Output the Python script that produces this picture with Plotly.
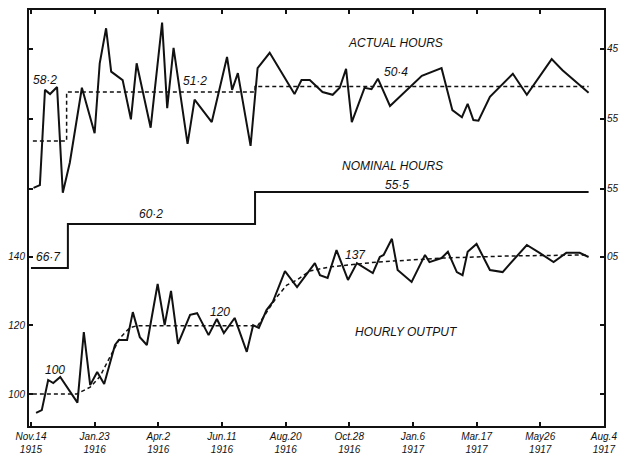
import plotly.graph_objects as go

# ---- data (x in weeks from Nov 14 1915) ----
week_ticks = [0, 10, 20, 30, 40, 50, 60, 70, 80, 90]
week_labels = ["Nov.14<br>1915", "Jan.23<br>1916", "Apr.2<br>1916", "Jun.11<br>1916",
               "Aug.20<br>1916", "Oct.28<br>1916", "Jan.6<br>1917", "Mar.17<br>1917",
               "May26<br>1917", "Aug.4<br>1917"]

actual_weeks = [0.4, 1.4, 2.2, 3.0, 4.1, 5.0, 6.1, 8.0, 10.0, 10.8, 11.8, 12.6, 14.4, 15.7,
                16.6, 18.8, 20.6, 21.4, 22.4, 24.6, 25.7, 28.4, 30.8, 31.6, 32.5, 34.5,
                35.6, 37.5, 41.4, 42.5, 43.8, 45.8, 47.4, 48.5, 49.5, 50.4, 52.4, 53.5,
                54.5, 56.4, 61.4, 64.5, 66.2, 67.7, 68.6, 69.5, 70.3, 72.1, 75.7, 77.9,
                81.8, 83.5, 87.6]
actual_hours = [64.9, 64.5, 50.9, 51.5, 50.5, 65.6, 61.3, 50.6, 57.1, 47.1, 42.1, 48.3, 49.5,
                55.1, 47.1, 56.3, 41.3, 53.5, 44.9, 58.6, 52.3, 55.5, 46.2, 50.9, 48.5, 58.9,
                47.8, 45.6, 51.5, 49.5, 49.5, 51.2, 51.6, 50.6, 47.9, 55.5, 50.6, 50.8, 49.3,
                53.2, 48.9, 47.8, 53.8, 54.8, 52.9, 55.2, 55.3, 51.9, 48.6, 51.6, 46.5, 48.1,
                51.3]

actual_avg_weeks = [0.3, 5.6, 5.6, 35.2, 35.2, 87.6]
actual_avg_hours = [58.2, 58.2, 51.2, 51.2, 50.4, 50.4]

nominal_weeks = [0, 5.8, 35.2, 87.6]
nominal_hours = [66.7, 60.2, 55.5, 55.5]

output_weeks = [0.8, 1.7, 2.7, 3.5, 4.6, 7.3, 8.3, 9.3, 10.4, 11.5, 13.2, 13.8, 15.1, 16.0,
                17.1, 18.2, 19.9, 21.0, 22.0, 23.1, 25.0, 26.1, 27.9, 29.2, 30.3, 32.0,
                33.9, 34.9, 35.8, 37.0, 38.0, 39.9, 41.8, 43.0, 43.8, 44.6, 45.4, 46.6,
                48.0, 49.8, 51.2, 52.1, 53.7, 54.8, 55.4, 56.7, 57.6, 59.8, 61.9, 62.6,
                64.5, 65.5, 66.9, 67.8, 68.6, 70.0, 72.1, 74.1, 77.9, 79.9, 82.1, 84.1,
                86.2, 87.6]
output_values = [94.5, 95.3, 104.1, 103.2, 105.0, 97.5, 118.1, 102.6, 106.4, 102.9, 114.3,
                 115.8, 115.8, 123.9, 116.6, 114.3, 132.1, 120.1, 130.1, 114.6, 123.1, 123.6,
                 117.2, 121.9, 117.8, 122.2, 112.3, 120.1, 119.3, 124.5, 126.9, 135.9, 131.2,
                 134.2, 136.0, 138.2, 134.7, 133.9, 142.0, 133.3, 138.2, 137.1, 135.3, 140.0,
                 140.6, 145.3, 136.2, 132.7, 140.6, 138.5, 139.7, 141.5, 135.6, 134.7, 141.5,
                 143.8, 136.2, 135.6, 143.5, 141.2, 138.5, 141.2, 141.2, 140.0]

trend_weeks = [0.3, 7.2, 9.3, 10.8, 12.4, 14.0, 15.5, 16.6, 35.6, 37.0, 38.6, 40.2, 41.8,
               43.8, 46.9, 50.1, 54.3, 59.5, 64.7, 75.2, 87.6]
trend_values = [100, 100, 102, 105, 110.8, 116.4, 119.3, 119.9, 119.9, 124, 128.3, 131.8,
                133.3, 135.9, 137.1, 137.7, 138.5, 139.1, 139.7, 140.3, 140.6]

# right-hand scale labels: (text, axis, value)
right_labels = [("45", "y2", 45), ("55", "y2", 55), ("55", "y3", 55), ("05", "y", 140)]

FONT = "Liberation Sans"
ink = "#111111"

fig = go.Figure()
fig.add_trace(go.Scatter(x=actual_weeks, y=actual_hours, yaxis="y2", mode="lines",
                         line=dict(color=ink, width=2)))
fig.add_trace(go.Scatter(x=actual_avg_weeks, y=actual_avg_hours, yaxis="y2", mode="lines",
                         line=dict(color=ink, width=1.5, dash="4px,3px")))
fig.add_trace(go.Scatter(x=nominal_weeks, y=nominal_hours, yaxis="y3", mode="lines",
                         line=dict(color=ink, width=2, shape="hv")))
fig.add_trace(go.Scatter(x=output_weeks, y=output_values, yaxis="y", mode="lines",
                         line=dict(color=ink, width=2)))
fig.add_trace(go.Scatter(x=trend_weeks, y=trend_values, yaxis="y", mode="lines",
                         line=dict(color=ink, width=1.5, dash="4px,3px")))

tf = dict(family=FONT, size=10, color=ink, style="italic")

notes = [("58·2", 2.2, 0.832), ("51·2", 25.7, 0.829), ("50·4", 57.3, 0.851),
         ("ACTUAL HOURS", 57.3, 0.921), ("NOMINAL HOURS", 56.8, 0.625),
         ("55·5", 57.5, 0.579), ("60·2", 18.8, 0.510), ("66·7", 2.8, 0.406),
         ("100", 3.8, 0.135), ("120", 29.7, 0.274), ("137", 51.0, 0.411),
         ("HOURLY OUTPUT", 59.0, 0.226)]
annotations = [dict(text=t, x=x, y=y, xref="x", yref="paper", xanchor="center",
                    yanchor="middle", showarrow=False,
                    font=dict(family=FONT, size=12, color=ink, style="italic"))
               for t, x, y in notes]
for t, ax, v in right_labels:
    annotations.append(dict(text=t, x=1, y=v, xref="paper", yref=ax, xanchor="left",
                            yanchor="middle", xshift=1, showarrow=False, font=tf))

common = dict(showgrid=False, zeroline=False, automargin=False)

fig.update_layout(
    template="none",
    width=620, height=459,
    margin=dict(l=29, r=16, t=10, b=33, pad=0),
    paper_bgcolor="white", plot_bgcolor="white",
    showlegend=False,
    annotations=annotations,
    xaxis=dict(range=[-0.31, 90.02], tickvals=week_ticks, ticktext=week_labels,
               ticks="inside", ticklen=4, tickwidth=1.5, tickcolor=ink,
               showline=True, linewidth=2, linecolor=ink, mirror="ticks",
               tickfont=tf, **common),
    yaxis=dict(range=[90.66, 212.1], tickvals=[100, 120, 140],
               ticks="inside", ticklen=4, tickwidth=1.5, tickcolor=ink,
               showline=True, linewidth=2, linecolor=ink, mirror="ticks",
               tickfont=tf, **common),
    yaxis2=dict(range=[98.91, 39.49], overlaying="y", side="right", tickvals=[45, 55],
                ticks="inside", ticklen=4, tickwidth=1.5, tickcolor=ink,
                showline=True, linewidth=2, linecolor=ink, mirror="ticks",
                showticklabels=False, **common),
    yaxis3=dict(range=[89.96, 28.70], overlaying="y", side="right", tickvals=[55],
                ticks="inside", ticklen=4, tickwidth=1.5, tickcolor=ink,
                showline=False, mirror="ticks", showticklabels=False, **common),
)

fig.write_html("out.html", config={"displayModeBar": False},
               post_script="document.body.style.margin='0';"
                           "document.body.style.overflow='hidden';")
